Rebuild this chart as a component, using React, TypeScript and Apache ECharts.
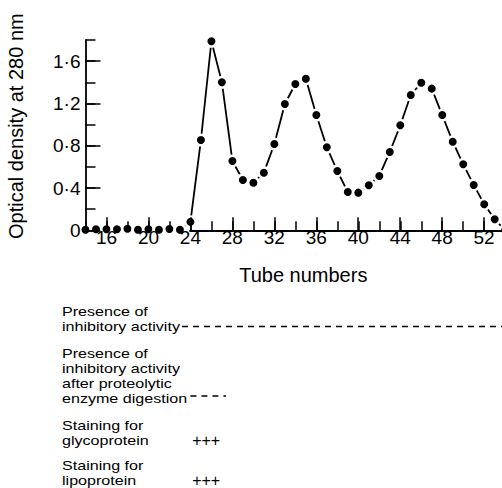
import React, { useEffect, useRef } from "react";
import * as echarts from "echarts";

// ---- data ----
const tubes = [14, 15, 16, 17, 18, 19, 20, 21, 22, 23, 24, 25, 26, 27, 28, 29, 30, 31, 32, 33, 34, 35, 36, 37, 38, 39, 40, 41, 42, 43, 44, 45, 46, 47, 48, 49, 50, 51, 52, 53, 54];
const opticalDensity = [0.005, 0.01, 0.01, 0.01, 0.015, 0.005, 0.01, 0.005, 0.012, 0.005, 0.08, 0.854, 1.788, 1.4, 0.656, 0.476, 0.45, 0.545, 0.816, 1.195, 1.384, 1.434, 1.09, 0.785, 0.561, 0.362, 0.356, 0.426, 0.514, 0.741, 0.993, 1.28, 1.396, 1.34, 1.09, 0.838, 0.624, 0.429, 0.246, 0.104, 0.0];
const xTickValues = [16, 20, 24, 28, 32, 36, 40, 44, 48, 52];
const xTickLabels = ["16", "20", "24", "28", "32", "36", "40", "44", "48", "52"];
const yTickValues = [0, 0.4, 0.8, 1.2, 1.6];
const yTickLabels = ["0", "0·4", "0·8", "1·2", "1·6"];
const axisLineStartTube = 23.9;

// annotation rows below the chart (ranges in tube numbers)
const inhibitoryRange = [23.2, 54];
const digestionRange = [24.0, 27.4];
const glycoproteinRange = [24, 27];
const lipoproteinRange = [24, 27];
const rowLabels = [
  ["Presence of", "inhibitory activity"],
  ["Presence of", "inhibitory activity", "after proteolytic", "enzyme digestion"],
  ["Staining for", "glycoprotein"],
  ["Staining for", "lipoprotein"],
];
const rowFirstBaselines = [316, 358, 430, 470];

const FONT = "Liberation Sans";

export default function App() {
  const ref = useRef<HTMLDivElement>(null);
  useEffect(() => {
    if (!ref.current) return;
    const chart = echarts.init(ref.current, null, { renderer: "svg" });
    const tick = { color: "#000", width: 1.5 };
    const labelFor = (vals: number[], labels: string[]) => (v: number) => {
      const i = vals.findIndex((t) => Math.abs(t - v) < 1e-6);
      return i >= 0 ? labels[i] : "";
    };
    chart.setOption({
      animation: false,
      backgroundColor: "#fff",
      textStyle: { fontFamily: FONT, color: "#000" },
      grid: [
        { left: 85.5, right: -3.2, top: 40, bottom: 257.7, containLabel: false, outerBoundsMode: "none" },
        { left: 106.5, right: 17.9, top: 61.2, bottom: 257.7, containLabel: false, outerBoundsMode: "none" },
      ],
      xAxis: [
        {
          type: "value", gridIndex: 0, min: 14, max: 54, interval: 2,
          axisLine: { show: false },
          axisTick: { show: true, inside: true, length: 9, lineStyle: tick },
          axisLabel: { show: false }, splitLine: { show: false }, z: 5,
        },
        {
          type: "value", gridIndex: 1, min: 16, max: 52, interval: 4,
          axisLine: { show: false },
          axisTick: { show: true, inside: true, length: 13, lineStyle: tick },
          axisLabel: { formatter: labelFor(xTickValues, xTickLabels), fontSize: 19, color: "#000", margin: -2, fontFamily: FONT },
          splitLine: { show: false }, z: 5,
          name: "Tube numbers", nameLocation: "middle", nameGap: 35,
          nameTextStyle: { fontSize: 20, color: "#000", fontFamily: FONT, padding: [0, 0, 0, 16] },
        },
      ],
      yAxis: [
        {
          type: "value", gridIndex: 0, min: 0, max: 1.8, interval: 0.2,
          axisLine: { show: true, lineStyle: { color: "#000", width: 1.8 } },
          axisTick: { show: true, inside: true, length: 10, lineStyle: tick },
          axisLabel: { show: false }, splitLine: { show: false }, z: 5,
          name: "Optical density at 280 nm", nameLocation: "middle", nameGap: 60,
          nameTextStyle: { fontSize: 20, color: "#000", fontFamily: FONT, padding: [0, 0, 0, 18] },
        },
        {
          type: "value", gridIndex: 1, min: 0, max: 1.6, interval: 0.4, offset: 21,
          axisLine: { show: false },
          axisTick: { show: true, inside: true, length: 15, lineStyle: tick },
          axisLabel: { formatter: labelFor(yTickValues, yTickLabels), fontSize: 19, color: "#000", margin: 5, fontFamily: FONT },
          splitLine: { show: false }, z: 5,
        },
      ],
      series: [
        {
          type: "line", xAxisIndex: 0, yAxisIndex: 0,
          data: tubes.map((t, i) => [t, opticalDensity[i]]),
          symbol: "circle", symbolSize: 10.5,
          itemStyle: { color: "#000", borderColor: "#fff", borderWidth: 2.5 },
          lineStyle: { color: "#000", width: 1.8 },
          z: 2,
          markLine: {
            silent: true, symbol: ["none", "none"], label: { show: false },
            lineStyle: { color: "#000", width: 1.8, type: "solid" },
            data: [[{ coord: [axisLineStartTube, 0] }, { coord: [54, 0] }]],
          },
        },
      ],
    });

    const px = (t: number) => chart.convertToPixel({ xAxisIndex: 0 }, t) as number;
    const graphics: any[] = [];
    const fs = 13.4;
    const lh = 15;
    rowLabels.forEach((lines, r) => {
      graphics.push({
        type: "text", x: 62, y: rowFirstBaselines[r] - lh / 2 - 0.3465 * fs,
        scaleX: 1.2,
        style: {
          text: lines.join("\n"), fontSize: fs, lineHeight: lh, fontFamily: FONT, fill: "#000",
          verticalAlign: "top", textVerticalAlign: "top",
        },
      });
    });
    const dashRow = (range: number[], y: number) => ({
      type: "line",
      shape: { x1: px(range[0]), y1: y, x2: px(range[1]), y2: y },
      style: { stroke: "#000", lineWidth: 1.5, lineDash: [6, 5] },
    });
    graphics.push(dashRow(inhibitoryRange, 326.5));
    graphics.push(dashRow(digestionRange, 396));
    const plusRow = (range: number[], y: number) => ({
      type: "text", x: (px(range[0]) + px(range[1])) / 2, y,
      style: { text: "+++", fontSize: 16, fontFamily: FONT, fill: "#000", align: "center", textAlign: "center", verticalAlign: "middle", textVerticalAlign: "middle" },
    });
    graphics.push(plusRow(glycoproteinRange, 440));
    graphics.push(plusRow(lipoproteinRange, 480));
    chart.setOption({ graphic: graphics });

    return () => chart.dispose();
  }, []);
  return <div ref={ref} style={{ position: "fixed", left: 0, top: 0, width: 502, height: 488 }} />;
}
